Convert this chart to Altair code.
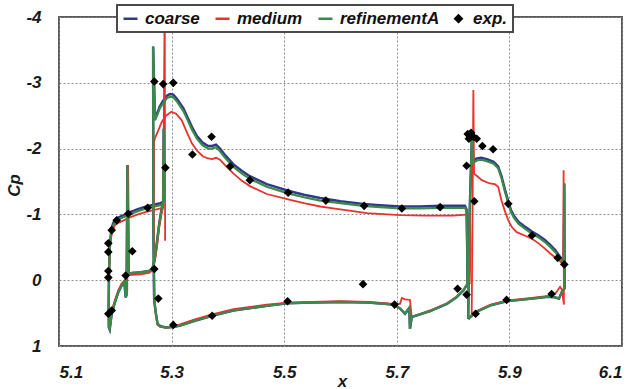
import altair as alt
import pandas as pd

SERIES = ["coarse", "medium", "refinementA", "exp."]
COLORS = ["#2f3b86", "#e8322c", "#3b8a4b", "#000000"]
LEGEND_SHAPES = ["stroke", "stroke", "stroke", "diamond"]
LEGEND_SIZES = [196, 196, 196, 40]
X_TICKS = [5.1, 5.3, 5.5, 5.7, 5.9, 6.1]
Y_TICKS = [-4, -3, -2, -1, 0, 1]

# ---------------- refinementA (green) ----------------
REF_SLAT = [(5.2868, -1.20), (5.2860, -2.30), (5.2850, -1.16), (5.2800, -1.14), (5.2700, -1.12),
            (5.2550, -1.09), (5.2400, -1.05), (5.2250, -1.00), (5.2150, -0.96), (5.2050, -0.92),
            (5.2000, -0.89), (5.1960, -0.83), (5.1935, -0.76), (5.1905, -0.55), (5.1888, -0.10),
            (5.1882, 0.40), (5.1886, 0.72), (5.1900, 0.75), (5.1936, 0.51), (5.1995, 0.33),
            (5.2054, 0.18), (5.2113, 0.08), (5.2160, 0.03), (5.2185, 0.26), (5.2200, 0.22),
            (5.2215, -1.75), (5.2235, -0.10), (5.2300, -0.11), (5.2450, -0.12), (5.2600, -0.14),
            (5.2660, -0.18), (5.2700, -0.32), (5.2740, -0.58), (5.2780, -0.86), (5.2820, -1.05),
            (5.2850, -1.16)]
REF_MAIN = [(5.2690, 0.30), (5.2676, -0.80), (5.2672, -3.55), (5.2705, -2.43), (5.2750, -2.52),
            (5.2790, -2.61), (5.2850, -2.69), (5.2910, -2.76), (5.2970, -2.79), (5.3030, -2.78),
            (5.3100, -2.71), (5.3210, -2.57), (5.3280, -2.44), (5.3360, -2.29), (5.3450, -2.15),
            (5.3550, -2.05), (5.3650, -2.00), (5.3720, -2.00), (5.3790, -2.02), (5.3860, -1.96),
            (5.3950, -1.86), (5.4100, -1.72), (5.4250, -1.62), (5.4390, -1.54), (5.4690, -1.42),
            (5.5070, -1.32), (5.5350, -1.26), (5.5640, -1.21), (5.6000, -1.17), (5.6400, -1.13),
            (5.6700, -1.11), (5.7060, -1.09), (5.7400, -1.09), (5.7770, -1.10), (5.8000, -1.10),
            (5.8210, -1.10), (5.8240, -1.05), (5.8252, -0.40), (5.8255, 0.06), (5.8230, 0.09),
            (5.8180, 0.16), (5.8060, 0.26), (5.7890, 0.36), (5.7590, 0.47), (5.7265, 0.56),
            (5.7234, 0.74), (5.7222, 0.42), (5.7146, 0.51), (5.7057, 0.43), (5.6940, 0.37),
            (5.6500, 0.34), (5.6000, 0.33), (5.5500, 0.34), (5.5060, 0.35), (5.4690, 0.39),
            (5.4100, 0.46), (5.3720, 0.54), (5.3400, 0.62), (5.3150, 0.69), (5.3030, 0.71),
            (5.2900, 0.72), (5.2800, 0.70), (5.2750, 0.66), (5.2720, 0.50), (5.2690, 0.30)]
REF_FLAP = [(5.8268, 0.59), (5.8290, -0.90), (5.8335, -2.22), (5.8360, -1.78), (5.8420, -1.82),
            (5.8500, -1.83), (5.8600, -1.81), (5.8720, -1.77), (5.8800, -1.70), (5.8860, -1.55),
            (5.8920, -1.35), (5.8980, -1.17), (5.9030, -1.03), (5.9080, -0.95), (5.9160, -0.86),
            (5.9280, -0.78), (5.9400, -0.71), (5.9520, -0.65), (5.9630, -0.58), (5.9720, -0.51),
            (5.9810, -0.43), (5.9880, -0.36), (5.9935, -0.30), (5.9965, -0.23), (5.9975, -1.47),
            (5.9982, 0.12), (5.9930, 0.18), (5.9880, 0.28), (5.9810, 0.26), (5.9690, 0.25),
            (5.9400, 0.28), (5.8950, 0.32), (5.8670, 0.38), (5.8390, 0.49), (5.8268, 0.59)]

# ---------------- coarse (navy) ----------------
COARSE_SLAT = [(5.2868, -1.22), (5.2860, -2.30), (5.2850, -1.19), (5.2800, -1.17), (5.2700, -1.15),
               (5.2550, -1.12), (5.2400, -1.08), (5.2250, -1.03), (5.2150, -0.99), (5.2050, -0.95),
               (5.2000, -0.92), (5.1960, -0.86), (5.1935, -0.79), (5.1905, -0.57), (5.1888, -0.10),
               (5.1882, 0.40), (5.1886, 0.72), (5.1900, 0.75), (5.1936, 0.51), (5.1995, 0.33),
               (5.2054, 0.18), (5.2113, 0.08), (5.2160, 0.03), (5.2185, 0.26), (5.2200, 0.22),
               (5.2215, -1.75), (5.2235, -0.10), (5.2300, -0.11), (5.2450, -0.12), (5.2600, -0.14),
               (5.2660, -0.18), (5.2700, -0.32), (5.2740, -0.58), (5.2780, -0.86), (5.2820, -1.07),
               (5.2850, -1.19)]
COARSE_MAIN = [(5.2690, 0.30), (5.2676, -0.80), (5.2672, -3.55), (5.2705, -2.45), (5.2750, -2.55),
               (5.2790, -2.64), (5.2850, -2.73), (5.2910, -2.80), (5.2970, -2.83), (5.3030, -2.82),
               (5.3100, -2.75), (5.3210, -2.61), (5.3280, -2.48), (5.3360, -2.33), (5.3450, -2.19),
               (5.3550, -2.09), (5.3650, -2.04), (5.3720, -2.04), (5.3790, -2.06), (5.3860, -2.00),
               (5.3950, -1.90), (5.4100, -1.76), (5.4250, -1.66), (5.4390, -1.58), (5.4690, -1.46),
               (5.5070, -1.36), (5.5350, -1.30), (5.5640, -1.25), (5.6000, -1.20), (5.6400, -1.16),
               (5.6700, -1.14), (5.7060, -1.12), (5.7400, -1.12), (5.7770, -1.13), (5.8000, -1.13),
               (5.8210, -1.13), (5.8240, -1.07), (5.8252, -0.40), (5.8255, 0.06), (5.8230, 0.09),
               (5.8180, 0.16), (5.8060, 0.26), (5.7890, 0.36), (5.7590, 0.47), (5.7265, 0.56),
               (5.7234, 0.74), (5.7222, 0.42), (5.7146, 0.51), (5.7057, 0.43), (5.6940, 0.37),
               (5.6500, 0.34), (5.6000, 0.33), (5.5500, 0.34), (5.5060, 0.35), (5.4690, 0.39),
               (5.4100, 0.46), (5.3720, 0.54), (5.3400, 0.62), (5.3150, 0.69), (5.3030, 0.71),
               (5.2900, 0.72), (5.2800, 0.70), (5.2750, 0.66), (5.2720, 0.50), (5.2690, 0.30)]
COARSE_FLAP = [(5.8268, 0.59), (5.8290, -0.90), (5.8335, -2.22), (5.8360, -1.81), (5.8420, -1.85),
               (5.8500, -1.86), (5.8600, -1.84), (5.8720, -1.80), (5.8800, -1.73), (5.8860, -1.58),
               (5.8920, -1.38), (5.8980, -1.20), (5.9030, -1.06), (5.9080, -0.98), (5.9160, -0.89),
               (5.9280, -0.81), (5.9400, -0.74), (5.9520, -0.68), (5.9630, -0.61), (5.9720, -0.54),
               (5.9810, -0.46), (5.9880, -0.38), (5.9935, -0.31), (5.9965, -0.24), (5.9975, -1.47),
               (5.9982, 0.12), (5.9930, 0.18), (5.9880, 0.28), (5.9810, 0.26), (5.9690, 0.25),
               (5.9400, 0.28), (5.8950, 0.32), (5.8670, 0.38), (5.8390, 0.49), (5.8268, 0.59)]

# ---------------- medium (red) ----------------
MED_SLAT = [(5.2885, -0.60), (5.2878, -4.30), (5.2850, -1.11), (5.2800, -1.09), (5.2700, -1.07),
            (5.2550, -1.04), (5.2400, -1.00), (5.2250, -0.95), (5.2150, -0.91), (5.2050, -0.87),
            (5.2000, -0.84), (5.1960, -0.78), (5.1935, -0.70), (5.1905, -0.50), (5.1890, -0.10),
            (5.1885, 0.40), (5.1890, 0.66), (5.1905, 0.68), (5.1965, 0.38), (5.2054, 0.15),
            (5.2113, 0.05), (5.2165, 0.00), (5.2190, 0.20), (5.2212, 0.18), (5.2228, -1.75),
            (5.2245, -0.08), (5.2300, -0.08), (5.2450, -0.09), (5.2600, -0.11), (5.2660, -0.15),
            (5.2700, -0.28), (5.2740, -0.50), (5.2780, -0.80), (5.2820, -1.00), (5.2850, -1.11)]
MED_MAIN = [(5.2695, 0.30), (5.2685, -1.00), (5.2688, -2.10), (5.2705, -2.16), (5.2760, -2.27),
            (5.2823, -2.40), (5.2900, -2.50), (5.2995, -2.56), (5.3080, -2.53), (5.3180, -2.43),
            (5.3270, -2.25), (5.3360, -2.08), (5.3460, -1.96), (5.3560, -1.88), (5.3650, -1.85),
            (5.3720, -1.84), (5.3790, -1.86), (5.3860, -1.83), (5.3950, -1.75), (5.4100, -1.62),
            (5.4250, -1.51), (5.4390, -1.43), (5.4690, -1.31), (5.5070, -1.23), (5.5350, -1.17),
            (5.5640, -1.12), (5.5870, -1.09), (5.6470, -1.02), (5.7060, -0.99), (5.7500, -0.98),
            (5.8000, -0.98), (5.8300, -1.00), (5.8310, -0.50), (5.8295, 0.05), (5.8250, 0.08),
            (5.8180, 0.15), (5.8060, 0.25), (5.7890, 0.35), (5.7590, 0.46), (5.7265, 0.56),
            (5.7234, 0.30), (5.7146, 0.29), (5.7090, 0.27), (5.7057, 0.36), (5.6940, 0.36),
            (5.6500, 0.33), (5.6000, 0.32), (5.5500, 0.33), (5.5060, 0.34), (5.4690, 0.37),
            (5.4100, 0.44), (5.3720, 0.52), (5.3400, 0.60), (5.3150, 0.67), (5.3030, 0.70),
            (5.2900, 0.72), (5.2800, 0.71), (5.2750, 0.68), (5.2720, 0.52), (5.2695, 0.30)]
MED_FLAP = [(5.8330, 0.56), (5.8345, -1.00), (5.8360, -2.89), (5.8372, -1.62), (5.8430, -1.58),
            (5.8510, -1.52), (5.8650, -1.47), (5.8740, -1.46), (5.8800, -1.42), (5.8860, -1.21),
            (5.8920, -1.05), (5.8980, -0.91), (5.9050, -0.80), (5.9130, -0.73), (5.9270, -0.68),
            (5.9400, -0.63), (5.9520, -0.56), (5.9630, -0.48), (5.9720, -0.41), (5.9810, -0.35),
            (5.9900, -0.29), (5.9955, -0.23), (5.9963, -1.67), (5.9968, 0.37), (5.9930, 0.14),
            (5.9900, 0.10), (5.9810, 0.21), (5.9690, 0.24), (5.9400, 0.27), (5.8950, 0.31),
            (5.8670, 0.37), (5.8390, 0.48), (5.8330, 0.56)]

# ---------------- experiment ----------------
EXP_X = [5.1876, 5.1936, 5.1876, 5.1876, 5.1876, 5.1876, 5.1936, 5.2025, 5.2231, 5.2575,
         5.2302, 5.2184, 5.2693, 5.2764, 5.3030, 5.3720, 5.5060,
         5.2693, 5.2850, 5.3030, 5.2890, 5.3370, 5.3710, 5.4040, 5.4390, 5.5070, 5.5740,
         5.6420, 5.7090, 5.7770, 5.8376,
         5.6400, 5.6960, 5.8080, 5.8240,
         5.8260, 5.8320, 5.8360, 5.8280, 5.8420, 5.8520, 5.8710, 5.8240, 5.8980, 5.9400,
         5.9857, 5.9975, 5.8400, 5.8950, 5.9750]
EXP_CP = [0.51, 0.46, -0.04, -0.14, -0.43, -0.56, -0.76, -0.91, -1.01, -1.10,
          -0.44, -0.07, -0.17, 0.28, 0.68, 0.54, 0.32,
          -3.02, -2.98, -3.00, -1.71, -1.91, -2.18, -1.73, -1.52, -1.33, -1.21,
          -1.13, -1.09, -1.11, -1.20,
          0.06, 0.37, 0.13, 0.22,
          -2.22, -2.24, -2.18, -2.15, -2.15, -2.04, -1.99, -1.74, -1.16, -0.68,
          -0.34, -0.24, 0.51, 0.30, 0.21]

SEGMENTS = {
    "coarse": [COARSE_SLAT, COARSE_MAIN, COARSE_FLAP],
    "medium": [MED_SLAT, MED_MAIN, MED_FLAP],
    "refinementA": [REF_SLAT, REF_MAIN, REF_FLAP],
}

rows = []
for s, segs in SEGMENTS.items():
    for k, seg in enumerate(segs):
        for i, (xv, cv) in enumerate(seg):
            rows.append({"series": s, "seg": f"{s}-{k}", "i": i, "x": xv, "cp": cv})
lines_df = pd.DataFrame(rows)
exp_df = pd.DataFrame({"x": EXP_X, "cp": EXP_CP, "series": ["exp."] * len(EXP_X)})

FONT = "Liberation Sans"

xenc = alt.X("x:Q", scale=alt.Scale(domain=[5.1, 6.1], nice=False, zero=False),
             axis=alt.Axis(values=X_TICKS, title="x", labelExpr="'' + datum.value",
                           titleX=283, titleY=40, titleBaseline="alphabetic"))
yenc = alt.Y("cp:Q", scale=alt.Scale(domain=[-4, 1], reverse=True, nice=False, zero=False),
             axis=alt.Axis(values=Y_TICKS, title="Cp", labelExpr="'' + datum.value",
                           titleX=-40, titleY=168, titleBaseline="alphabetic", titleAngle=270))

legend = alt.Legend(
    title=None, orient="none", legendX=58, legendY=-12, direction="horizontal",
    fillColor="white", strokeColor="#4a4a4a", padding=5, columnPadding=10,
    labelFont=FONT, labelFontSize=17, labelFontStyle="italic", labelFontWeight="bold",
    labelColor="#111111", labelOffset=6, symbolStrokeWidth=2.5, symbolFillColor="black",
    symbolOpacity=1,
)
color = alt.Color("series:N", scale=alt.Scale(domain=SERIES, range=COLORS), legend=legend)

widths = {"coarse": 2.5, "medium": 1.8, "refinementA": 2.2}
layers = []
for s in ["coarse", "medium", "refinementA"]:
    layers.append(
        alt.Chart(lines_df).transform_filter(alt.datum.series == s)
        .mark_line(strokeWidth=widths[s], clip=True)
        .encode(x=xenc, y=yenc, color=color, detail="seg:N", order="i:Q")
    )
# legend-carrying layer for shapes/sizes; it draws nothing (all rows filtered out)
layers.append(
    alt.Chart(exp_df).transform_filter("datum.x > 100")
    .mark_point(filled=False, strokeWidth=1, clip=True)
    .encode(
        x=xenc, y=yenc, color=color,
        shape=alt.Shape("series:N", scale=alt.Scale(domain=SERIES, range=LEGEND_SHAPES), legend=legend),
        size=alt.Size("series:N", scale=alt.Scale(type="ordinal", domain=SERIES, range=LEGEND_SIZES),
                      legend=legend),
    )
)
layers.append(
    alt.Chart(exp_df).mark_point(shape="diamond", filled=True, size=75, opacity=1, clip=True)
    .encode(x=xenc, y=yenc, color=color)
)

chart = alt.layer(*layers).properties(
    width=563, height=329,
    padding={"left": 59, "top": 17, "right": 12, "bottom": 43},
    autosize=alt.AutoSizeParams(type="none"),
    background="white",
).configure_view(stroke="#5a5a5a", strokeWidth=2).configure_axis(
    grid=True, gridDash=[2, 2], gridColor="#8c8c8c", gridWidth=1,
    domain=False, ticks=False,
    labelFont=FONT, labelFontSize=17, labelFontStyle="italic", labelFontWeight="bold",
    labelColor="#1a1a1a", labelPadding=18,
    titleFont=FONT, titleFontSize=17, titleFontStyle="italic", titleFontWeight="bold",
    titleColor="#1a1a1a",
).configure_legend(strokeWidth=2)

chart.save("out.html", embed_options={"renderer": "svg", "actions": False})
